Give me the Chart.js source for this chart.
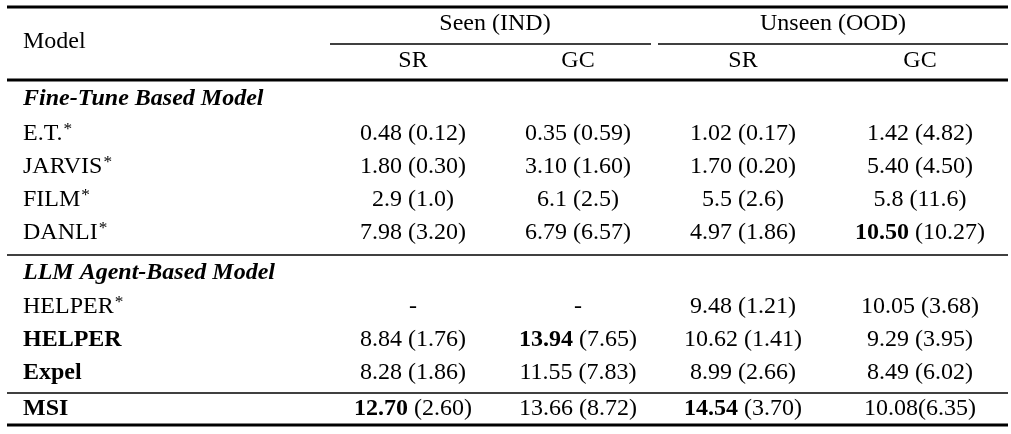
<!DOCTYPE html>
<html>
<head>
<meta charset="utf-8">
<script src="https://cdn.jsdelivr.net/npm/chart.js@4"></script>
<style>
  html, body { margin: 0; padding: 0; background: #fff; }
  #wrap { width: 1011px; height: 434px; }
</style>
</head>
<body>
<div id="wrap"><canvas id="table"></canvas></div>
<script>
// ** marks a bold prefix: "**10.50** (10.27)"
const groups = ["Seen (IND)", "Unseen (OOD)"];
const metrics = ["SR", "GC", "SR", "GC"];
const sections = ["Fine-Tune Based Model", "LLM Agent-Based Model"];
const fineTuneModels = ["E.T.*", "JARVIS*", "FILM*", "DANLI*"];
const fineTuneValues = [
    ["0.48 (0.12)", "0.35 (0.59)", "1.02 (0.17)", "1.42 (4.82)"],
    ["1.80 (0.30)", "3.10 (1.60)", "1.70 (0.20)", "5.40 (4.50)"],
    ["2.9 (1.0)", "6.1 (2.5)", "5.5 (2.6)", "5.8 (11.6)"],
    ["7.98 (3.20)", "6.79 (6.57)", "4.97 (1.86)", "**10.50** (10.27)"]
];
const agentModels = ["HELPER*", "**HELPER**", "**Expel**"];
const agentValues = [
    ["-", "-", "9.48 (1.21)", "10.05 (3.68)"],
    ["8.84 (1.76)", "**13.94** (7.65)", "10.62 (1.41)", "9.29 (3.95)"],
    ["8.28 (1.86)", "11.55 (7.83)", "8.99 (2.66)", "8.49 (6.02)"]
];
const finalModel = "**MSI**";
const finalValues = ["**12.70** (2.60)", "13.66 (8.72)", "**14.54** (3.70)", "10.08(6.35)"];

const FONT = '"Liberation Serif", "Times New Roman", serif';
const SIZE = 24;

function parts(s) {
    const m = s.match(/^\*\*(.*?)\*\*(.*)$/);
    return m ? [[m[1], true], [m[2], false]] : [[s, false]];
}

function drawCell(ctx, text, x, y, align, italic) {
    const segs = parts(text);
    const fontOf = b => (italic ? "italic " : "") + (b ? "bold " : "") + SIZE + "px " + FONT;
    let w = 0;
    segs.forEach(([t, b]) => { ctx.font = fontOf(b); w += ctx.measureText(t).width; });
    let cx = align === "center" ? x - w / 2 : x;
    segs.forEach(([t, b]) => {
        ctx.font = fontOf(b);
        // star as superscript
        const star = t.endsWith("*") && !b;
        const body = star ? t.slice(0, -1) : t;
        ctx.fillText(body, cx, y);
        cx += ctx.measureText(body).width;
        if (star) {
            ctx.font = (SIZE * 0.72) + "px " + FONT;
            ctx.fillText("*", cx + 1, y - 5);
        }
    });
}

const tablePlugin = {
    id: "tablePlugin",
    afterDraw(chart) {
        const ctx = chart.ctx;
        const X = v => chart.scales.x.getPixelForValue(v);
        const Y = v => chart.scales.y.getPixelForValue(v);
        ctx.save();
        ctx.fillStyle = "#000";
        ctx.strokeStyle = "#000";
        ctx.textBaseline = "middle";

        const rule = (y, x0, x1, lw) => {
            ctx.lineWidth = lw;
            ctx.beginPath();
            ctx.moveTo(X(x0), Y(y));
            ctx.lineTo(X(x1), Y(y));
            ctx.stroke();
        };
        rule(7, 7, 1008, 3);
        rule(44, 330, 651, 1.5);
        rule(44, 658, 1008, 1.5);
        rule(80, 7, 1008, 3);
        rule(255, 7, 1008, 1.5);
        rule(393, 7, 1008, 1.5);
        rule(425, 7, 1008, 3);

        const colX = [413, 578, 743, 920];
        const groupX = [495, 833];
        const left = 23;

        drawCell(ctx, "Model", X(left), Y(42), "left", false);
        groups.forEach((g, i) => drawCell(ctx, g, X(groupX[i]), Y(24), "center", false));
        metrics.forEach((m, i) => drawCell(ctx, m, X(colX[i]), Y(61), "center", false));

        const row = (name, vals, y) => {
            drawCell(ctx, name, X(left), Y(y), "left", false);
            vals.forEach((v, i) => drawCell(ctx, v, X(colX[i]), Y(y), "center", false));
        };

        drawCell(ctx, "**" + sections[0] + "**", X(left), Y(99), "left", true);
        fineTuneModels.forEach((m, i) => row(m, fineTuneValues[i], 134 + i * 33));
        drawCell(ctx, "**" + sections[1] + "**", X(left), Y(273), "left", true);
        agentModels.forEach((m, i) => row(m, agentValues[i], 307 + i * 33));
        row(finalModel, finalValues, 409);
        ctx.restore();
    }
};

new Chart(document.getElementById("table"), {
    type: "scatter",
    data: { datasets: [] },
    options: {
        responsive: true,
        maintainAspectRatio: false,
        animation: false,
        layout: { padding: 0 },
        plugins: { legend: { display: false }, tooltip: { enabled: false } },
        scales: {
            x: { type: "linear", min: 0, max: 1011, display: false },
            y: { type: "linear", min: 0, max: 434, reverse: true, display: false }
        }
    },
    plugins: [tablePlugin]
});
</script>
</body>
</html>
